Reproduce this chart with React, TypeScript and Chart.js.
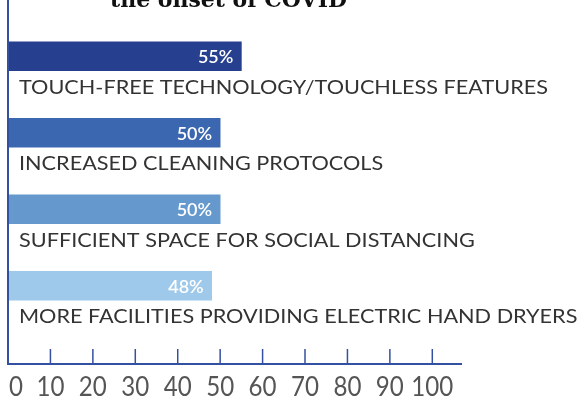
import React, { useEffect, useRef } from 'react';
import { Chart, registerables } from 'chart.js';

Chart.register(...registerables);

const TITLE = 'the onset of COVID';
const CATEGORIES = [
  'TOUCH-FREE TECHNOLOGY/TOUCHLESS FEATURES',
  'INCREASED CLEANING PROTOCOLS',
  'SUFFICIENT SPACE FOR SOCIAL DISTANCING',
  'MORE FACILITIES PROVIDING ELECTRIC HAND DRYERS',
];
const VALUES = [55, 50, 50, 48];
const BAR_COLORS = ['#263f8e', '#3b67b1', '#6599cd', '#9ec9ea'];
const TICK_VALUES = [0, 10, 20, 30, 40, 50, 60, 70, 80, 90, 100];

const AXIS_COLOR = '#3450a0';

const overlay = {
  id: 'overlay',
  afterDatasetsDraw(chart: any) {
    const ctx: CanvasRenderingContext2D = chart.ctx;
    const xs = chart.scales.x;
    const area = chart.chartArea;
    const meta = chart.getDatasetMeta(0);
    ctx.save();

    // title (cut off at top)
    ctx.font = 'bold 22px "DejaVu Serif"';
    ctx.fillStyle = '#111';
    ctx.textAlign = 'left';
    ctx.textBaseline = 'alphabetic';
    const tw = ctx.measureText(TITLE).width;
    ctx.save();
    ctx.translate(110, 7);
    ctx.scale(237 / tw, 1);
    ctx.fillText(TITLE, 0, 0);
    ctx.restore();

    // value labels inside bars
    ctx.font = '600 18px Lato';
    ctx.fillStyle = '#ffffff';
    ctx.textAlign = 'right';
    ctx.textBaseline = 'middle';
    meta.data.forEach((bar: any, i: number) => {
      ctx.fillText(`${VALUES[i]}%`, bar.x - 8, bar.y + 1);
    });

    // category labels below bars
    ctx.font = '400 19.5px Lato';
    ctx.fillStyle = '#333333';
    ctx.textAlign = 'left';
    ctx.textBaseline = 'alphabetic';
    const lw = ctx.measureText(CATEGORIES[0]).width;
    const lsx = 529 / lw;
    meta.data.forEach((bar: any, i: number) => {
      ctx.save();
      ctx.translate(area.left + 11, bar.y + 37.5);
      ctx.scale(lsx, 1);
      ctx.fillText(CATEGORIES[i], 0, 0);
      ctx.restore();
    });

    // axes
    const axisY = Math.round(area.bottom + 40);
    ctx.strokeStyle = AXIS_COLOR;
    ctx.lineWidth = 2;
    ctx.beginPath();
    ctx.moveTo(area.left, 0);
    ctx.lineTo(area.left, axisY);
    ctx.lineTo(area.right, axisY);
    ctx.stroke();

    ctx.lineWidth = 1.5;
    TICK_VALUES.forEach((v) => {
      if (v === 0) return;
      const px = xs.getPixelForValue(v);
      ctx.beginPath();
      ctx.moveTo(px, axisY - 15);
      ctx.lineTo(px, axisY);
      ctx.stroke();
    });

    // tick labels
    ctx.font = '400 27px Lato';
    ctx.fillStyle = '#555555';
    ctx.textAlign = 'center';
    ctx.textBaseline = 'alphabetic';
    const tsx = 14 / ctx.measureText('0').width;
    TICK_VALUES.forEach((v) => {
      const label = String(v);
      const w = ctx.measureText(label).width * tsx;
      let px = xs.getPixelForValue(v);
      px = Math.max(px, area.left + w / 2 + 1);
      ctx.save();
      ctx.translate(px, axisY + 32);
      ctx.scale(tsx, 1);
      ctx.fillText(label, 0, 0);
      ctx.restore();
    });

    ctx.restore();
  },
};

export default function App() {
  const ref = useRef<HTMLCanvasElement>(null);
  useEffect(() => {
    if (!ref.current) return;
    const chart = new Chart(ref.current, {
      type: 'bar',
      data: {
        labels: CATEGORIES,
        datasets: [
          {
            data: VALUES,
            backgroundColor: BAR_COLORS,
            borderWidth: 0,
            barThickness: 29,
          },
        ],
      },
      options: {
        indexAxis: 'y',
        animation: false,
        responsive: false,
        maintainAspectRatio: false,
        layout: { padding: { top: 18, bottom: 80, left: 8, right: 124 } },
        scales: {
          x: { display: false, min: 0, max: 107 },
          y: { display: false },
        },
        plugins: { legend: { display: false }, tooltip: { enabled: false } },
      },
      plugins: [overlay],
    } as any);
    return () => chart.destroy();
  }, []);
  return (
    <div style={{ position: 'fixed', left: 0, top: 0, width: 586, height: 404, background: '#fff' }}>
      <canvas ref={ref} width={586} height={404} style={{ display: 'block' }} />
    </div>
  );
}
